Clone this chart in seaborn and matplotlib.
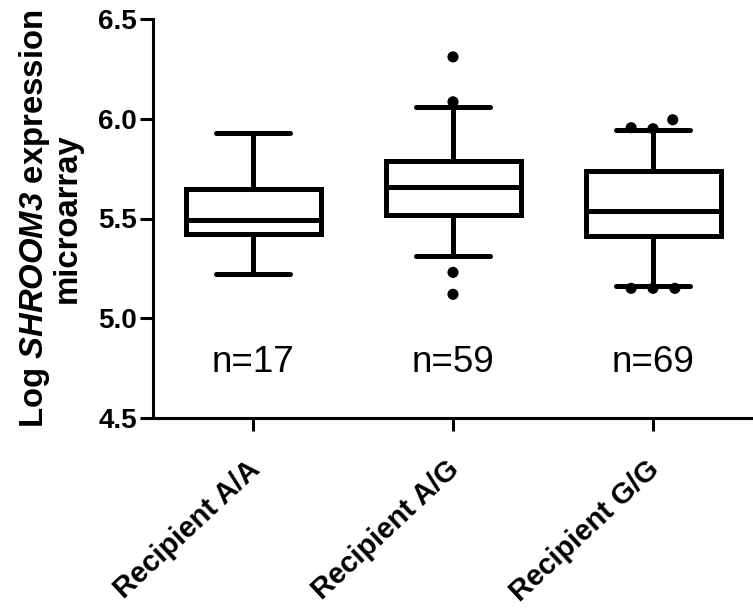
import numpy as np
import pandas as pd
import matplotlib
matplotlib.use("Agg")
import matplotlib.pyplot as plt
import matplotlib.transforms as mtransforms
import seaborn as sns

# ---- data ----
groups = ["Recipient A/A", "Recipient A/G", "Recipient G/G"]
whisker_low = [5.22, 5.31, 5.16]
q1 = [5.42, 5.52, 5.41]
median = [5.49, 5.66, 5.54]
q3 = [5.65, 5.79, 5.74]
whisker_high = [5.93, 6.06, 5.945]
outlier_group = ["Recipient A/G", "Recipient A/G", "Recipient A/G", "Recipient A/G",
                 "Recipient G/G", "Recipient G/G", "Recipient G/G",
                 "Recipient G/G", "Recipient G/G", "Recipient G/G"]
outlier_value = [6.31, 6.085, 5.23, 5.12,
                 5.95, 5.955, 5.995,
                 5.15, 5.15, 5.15]
n_labels = ["n=17", "n=59", "n=69"]
yticks = [4.5, 5.0, 5.5, 6.0, 6.5]

# five-number table -> box drawn with whiskers at min/max of these values
rows = []
for g, a, b, c, d, e in zip(groups, whisker_low, q1, median, q3, whisker_high):
    for v in (a, b, c, d, e):
        rows.append({"group": g, "value": v})
box_df = pd.DataFrame(rows)
out_df = pd.DataFrame({"group": outlier_group, "value": outlier_value})

sns.set_style("ticks")
plt.rcParams["font.family"] = ["Liberation Sans", "DejaVu Sans"]
plt.rcParams["mathtext.fontset"] = "custom"
plt.rcParams["mathtext.rm"] = "Liberation Sans"
plt.rcParams["mathtext.it"] = "Liberation Sans:italic"
plt.rcParams["mathtext.bf"] = "Liberation Sans:bold"
plt.rcParams["mathtext.bfit"] = "Liberation Sans:bold:italic"
for k in ["text.color", "axes.labelcolor", "xtick.color", "ytick.color", "axes.edgecolor"]:
    plt.rcParams[k] = "black"

fig = plt.figure(figsize=(7.53, 6.08), dpi=100)
ax = fig.add_axes([153 / 753, 1 - 418 / 608, 600 / 753, (418 - 19) / 608])

lw = 3.6
sns.boxplot(data=box_df, x="group", y="value", order=groups, whis=(0, 100),
            width=0.675, color="white", linecolor="black", linewidth=lw,
            showfliers=False, ax=ax, capwidths=0.37)

sns.swarmplot(data=out_df, x="group", y="value", order=groups, color="black",
              size=8, linewidth=7, edgecolor="none", ax=ax, zorder=5)

for i, t in enumerate(n_labels):
    ax.text(i, 4.776, t, ha="center", va="center", fontsize=26.5, color="black")

ax.set_xlim(-0.5, 2.5)
ax.set_ylim(4.5, 6.5)
ax.set_yticks(yticks)
ax.set_yticklabels([f"{v:.1f}" for v in yticks], fontsize=20, fontweight="bold")
ax.set_xticks(range(len(groups)))
ax.set_xticklabels([])
ax.tick_params(axis="both", width=2.2, length=9.4, color="black")
ax.tick_params(axis="y", pad=2)

# rotated category labels, anchored at their top-right corner below each tick
base = mtransforms.blended_transform_factory(ax.transData, ax.transAxes)
offset = mtransforms.ScaledTranslation(-7 / 100, -37 / 100, fig.dpi_scale_trans)
for i, g in enumerate(groups):
    ax.text(i, 0, g, transform=base + offset, fontsize=21, fontweight="bold",
            rotation=43, ha="right", va="top", rotation_mode="anchor",
            color="black")

ax.set_xlabel("")
ax.set_ylabel("Log $\\mathbfit{SHROOM3}$ expression\nmicroarray", fontsize=23.7,
              fontweight="bold", labelpad=11, linespacing=1.0)
for s in ["top", "right"]:
    ax.spines[s].set_visible(False)
for s in ["left", "bottom"]:
    ax.spines[s].set_linewidth(2.2)
    ax.spines[s].set_color("black")
    ax.spines[s].set_capstyle("projecting")

fig.savefig("out.png", dpi=100)
